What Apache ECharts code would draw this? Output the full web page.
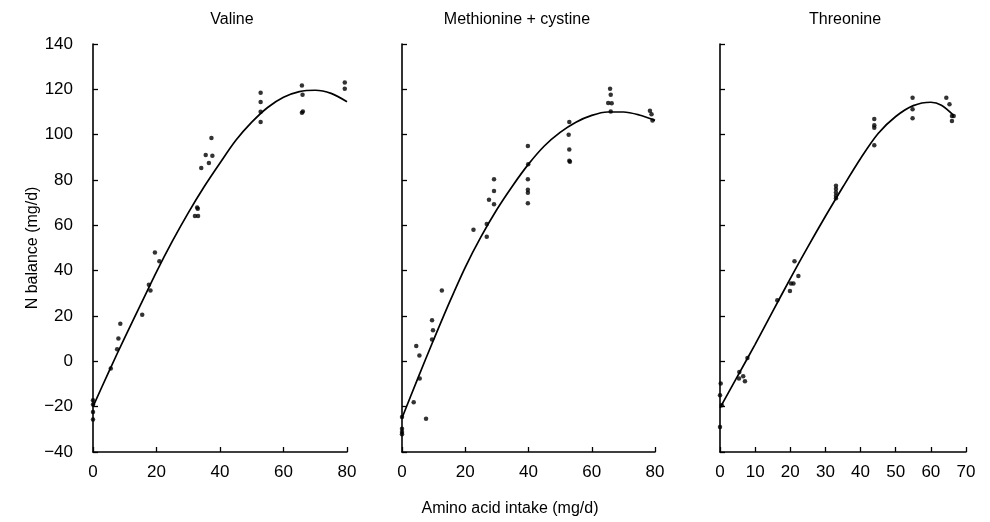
<!DOCTYPE html>
<html>
<head>
<meta charset="utf-8">
<script src="https://cdn.jsdelivr.net/npm/echarts@6/dist/echarts.min.js"></script>
<style>
html, body { margin: 0; padding: 0; background: #fff; }
#chart { width: 990px; height: 522px; }
</style>
</head>
<body>
<div id="chart"></div>
<script>
var panelTitles = ['Valine', 'Methionine + cystine', 'Threonine'];
var yTicks = [-40, -20, 0, 20, 40, 60, 80, 100, 120, 140];

// valine: observed points
var valineIntake = [0, 0, 0, 0, 5.6, 7.6, 8, 8.6, 15.5, 17.6, 18.1, 19.5, 20.9,
	32.1, 33.1, 32.8, 33, 34.1, 35.5, 36.5, 37.6, 37.3,
	52.8, 52.8, 52.8, 52.8, 65.8, 66, 65.8, 66.1, 79.3, 79.3];
var valineBalance = [-17.2, -19, -22.4, -25.7, -3.2, 5.3, 10.1, 16.6, 20.6, 33.8, 31.2, 48, 44.2,
	64.1, 64.1, 67.9, 67.3, 85.3, 91, 87.5, 90.7, 98.5,
	118.5, 114.4, 110.1, 105.6, 121.7, 117.6, 109.7, 110.2, 123, 120.3];
// valine: fitted curve
var valineCurveX = [0, 5, 10, 15, 20, 25, 30, 35, 40, 45, 50, 55, 60, 65, 70, 75, 80];
var valineCurveY = [-20, -4.5, 10.5, 25, 39.5, 53, 65.5, 77, 87.5, 97.5, 105.5, 112, 116.5, 119, 119.6, 118.2, 114.5];

// methionine + cystine
var metIntake = [0, 0, 0, 0, 3.7, 4.5, 5.5, 5.6, 7.6, 9.5, 9.8, 9.5, 12.6,
	22.6, 26.8, 26.8, 27.5, 29.1, 29.1, 29.1,
	39.8, 39.9, 39.8, 39.8, 39.8, 39.8,
	52.9, 52.7, 52.9, 52.9, 53.1,
	65.8, 66, 65.2, 66.3, 66,
	78.4, 78.9, 79.2];
var metBalance = [-24.6, -29.7, -31.2, -32.2, -18.1, 6.8, 2.6, -7.6, -25.3, 18.1, 13.7, 9.6, 31.3,
	58.1, 60.6, 55, 71.3, 80.3, 75.1, 69.3,
	95, 86.9, 80.3, 75.7, 74.4, 69.7,
	105.6, 100, 93.5, 88.5, 88,
	120.3, 117.6, 114, 113.9, 110.2,
	110.6, 109, 106.3];
var metCurveX = [0, 5, 10, 15, 20, 25, 30, 35, 40, 45, 50, 55, 60, 65, 70, 75, 80];
var metCurveY = [-25, -7.5, 9.5, 26, 41.5, 55, 67, 77.5, 87, 95, 101, 105.5, 108.5, 110, 110, 108.7, 106.3];

// threonine
var thrIntake = [0.2, 0, 0.5, 0, 5.5, 5.4, 6.6, 7.1, 7.8,
	16.3, 19.9, 20.2, 20.9, 21.2, 22.3,
	33, 33, 33, 33, 33,
	43.9, 43.9, 43.9, 43.9,
	54.8, 54.8, 54.8,
	64.4, 65.3, 66, 66.5, 66];
var thrBalance = [-9.8, -15, -19.4, -29, -4.7, -7.6, -6.6, -8.8, 1.5,
	26.9, 31, 34.3, 34.3, 44.2, 37.6,
	77.5, 76, 74.5, 73, 72,
	106.9, 104.1, 103.1, 95.3,
	116.3, 111.2, 107.2,
	116.3, 113.4, 108.2, 108.2, 106];
var thrCurveX = [0, 5, 10, 15, 20, 25, 30, 35, 40, 45, 50, 55, 60, 63, 66.5];
var thrCurveY = [-20.5, -6.5, 7.5, 22, 36.5, 50.5, 64, 77, 89.5, 100.5, 108, 112.8, 114.3, 113, 108.5];

var xMax = [80, 80, 70];
var xStep = [20, 20, 10];
var grids = [
	{ left: 93, top: 44, width: 254, height: 408 },
	{ left: 402, top: 44, width: 253, height: 408 },
	{ left: 720, top: 44, width: 246, height: 408 }
];

function pairs(xs, ys) {
	return xs.map(function (x, i) { return [x, ys[i]]; });
}

var font = 'Liberation Sans, Arial, sans-serif';
var ink = '#000';

var xAxes = [], yAxes = [], series = [];
var pts = [pairs(valineIntake, valineBalance), pairs(metIntake, metBalance), pairs(thrIntake, thrBalance)];
var curves = [pairs(valineCurveX, valineCurveY), pairs(metCurveX, metCurveY), pairs(thrCurveX, thrCurveY)];

for (var i = 0; i < 3; i++) {
	xAxes.push({
		gridIndex: i, type: 'value', min: 0, max: xMax[i], interval: xStep[i],
		axisLine: { onZero: false, lineStyle: { color: ink, width: 1.6 } },
		axisTick: { inside: true, length: 5, lineStyle: { color: ink, width: 1.3 } },
		axisLabel: { color: ink, fontSize: 17, fontFamily: font, margin: 12 },
		splitLine: { show: false }
	});
	yAxes.push({
		gridIndex: i, type: 'value', min: yTicks[0], max: yTicks[yTicks.length - 1], interval: 20,
		name: i === 0 ? 'N balance (mg/d)' : '',
		nameLocation: 'middle', nameGap: 50,
		nameTextStyle: { color: ink, fontSize: 16, fontFamily: font },
		axisLine: { onZero: false, lineStyle: { color: ink, width: 1.6 } },
		axisTick: { inside: true, length: 5, lineStyle: { color: ink, width: 1.3 } },
		axisLabel: {
			show: i === 0, color: ink, fontSize: 17, fontFamily: font, margin: 20,
			formatter: function (v) { return v < 0 ? '\u2212' + Math.abs(v) : String(v); }
		},
		splitLine: { show: false }
	});
	series.push({
		type: 'scatter', xAxisIndex: i, yAxisIndex: i, data: pts[i],
		symbolSize: 4.5, itemStyle: { color: ink }, silent: true
	});
	series.push({
		type: 'line', xAxisIndex: i, yAxisIndex: i, data: curves[i],
		smooth: 0.3, symbol: 'none', lineStyle: { color: ink, width: 1.7 }, silent: true
	});
}

var titles = [
	{ text: panelTitles[0], left: 227, top: 7 },
	{ text: panelTitles[1], left: 512, top: 7 },
	{ text: panelTitles[2], left: 840, top: 7 },
	{ text: 'Amino acid intake (mg/d)', left: 505, top: 496 }
].map(function (t) {
	return {
		text: t.text, left: t.left, top: t.top, textAlign: 'center',
		textStyle: { color: ink, fontSize: 16, fontWeight: 'normal', fontFamily: font }
	};
});

var chart = echarts.init(document.getElementById('chart'), null, { renderer: 'canvas' });
chart.setOption({
	animation: false,
	backgroundColor: '#fff',
	title: titles,
	grid: grids,
	xAxis: xAxes,
	yAxis: yAxes,
	series: series
});
</script>
</body>
</html>
